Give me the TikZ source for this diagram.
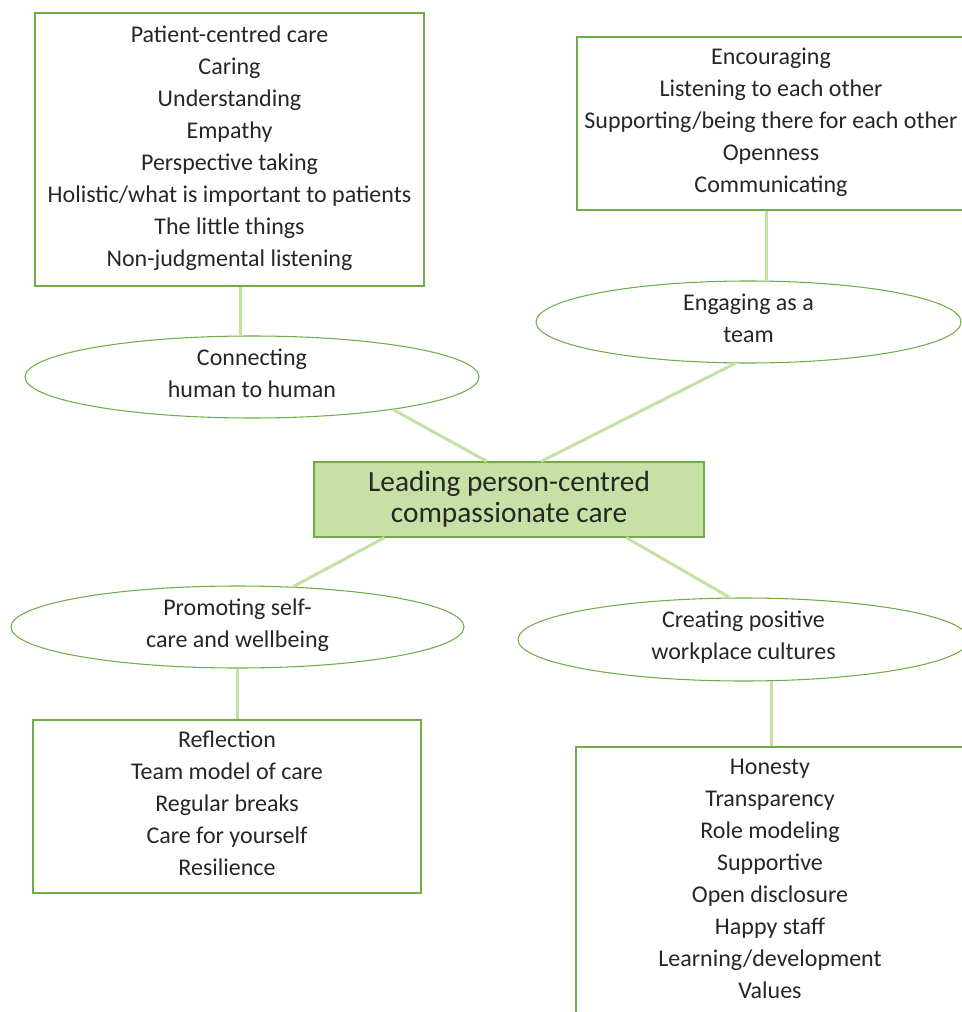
\documentclass[tikz,border=0pt]{standalone}
\usepackage{fontspec}
\setmainfont{Carlito}
\usepackage{tikz}
\usetikzlibrary{shapes.geometric}
\definecolor{edgegreen}{HTML}{70AD47}
\definecolor{linkgreen}{HTML}{C5E0A3}
\definecolor{leadfill}{HTML}{C6E0A5}
\definecolor{inktext}{HTML}{262626}

\begin{document}
\begin{tikzpicture}[x=0.75pt,y=-0.75pt,
  listbox/.style={draw=edgegreen,line width=0.8pt,inner sep=0pt,align=center,
    text=inktext,font=\fontsize{18}{24}\selectfont,text depth=5.5pt},
  theme/.style={ellipse,draw=edgegreen,line width=0.8pt,inner sep=0pt,align=center,
    text=inktext,font=\fontsize{18}{24}\selectfont,text depth=6pt,minimum height=61.5pt},
  link/.style={draw=linkgreen,line width=2.25pt}]
  \useasboundingbox (0,0) rectangle (962,1012);
  \clip (0,0) rectangle (962,1012);

  \node[listbox,minimum width=291.75pt,minimum height=204.75pt] (caring) at (229.5,149.5)
    {Patient-centred care\\Caring\\Understanding\\Empathy\\Perspective taking\\
     Holistic/what is important to patients\\The little things\\Non-judgmental listening};
  \node[listbox,minimum width=291pt,minimum height=129.75pt] (teamwork) at (771,123.5)
    {Encouraging\\Listening to each other\\Supporting/being there for each other\\Openness\\Communicating};
  \node[listbox,minimum width=291pt,minimum height=129.75pt] (selfcare) at (227,806.5)
    {Reflection\\Team model of care\\Regular breaks\\Care for yourself\\Resilience};
  \node[listbox,minimum width=291pt,minimum height=202.5pt] (culture) at (770,882)
    {Honesty\\Transparency\\Role modeling\\Supportive\\Open disclosure\\Happy staff\\
     Learning/development\\Values};

  \node[theme,minimum width=340.5pt] (connect) at (252,377) {Connecting\\human to human};
  \node[theme,minimum width=318.75pt] (engage) at (748.5,322) {Engaging as a\\team};
  \node[theme,minimum width=339.75pt] (promote) at (237.5,627) {Promoting self-\\care and wellbeing};
  \node[theme,minimum width=338.25pt,minimum height=62.25pt] (create) at (743.5,639.5)
    {Creating positive\\workplace cultures};

  \node[draw=edgegreen,fill=leadfill,line width=0.8pt,inner sep=0pt,align=center,text=inktext,
    font=\fontsize{22}{23.5}\selectfont,minimum width=292.5pt,minimum height=56.25pt]
    (lead) at (509,499.5) {Leading person-centred\\compassionate care};

  \draw[link] (connect.106) -- (connect.106 |- caring.south);
  \draw[link] (engage.66) -- (engage.66 |- teamwork.south);
  \draw[link] (promote.south) -- (promote.south |- selfcare.north);
  \draw[link] (create.-56) -- (create.-56 |- culture.north);
  \draw[link] (connect.-13) -- (lead.120);
  \draw[link] (engage.-108) -- (lead.50);
  \draw[link] (lead.-163) -- (promote.36);
  \draw[link] (lead.-18) -- (create.108);
\end{tikzpicture}
\end{document}
